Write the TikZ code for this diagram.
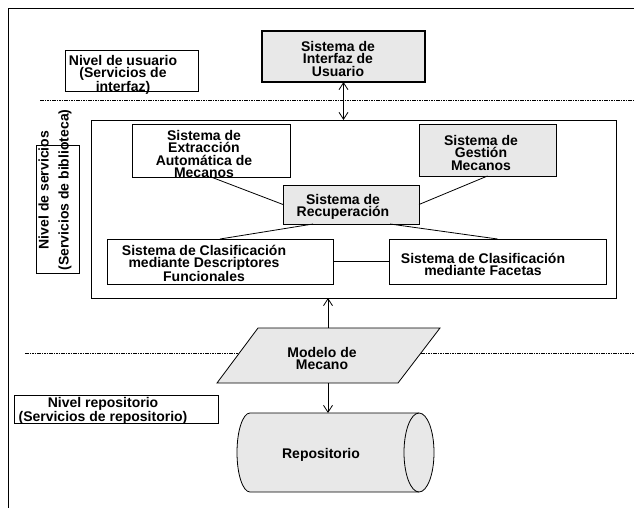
\documentclass[tikz,border=0pt]{standalone}
\usepackage{fontspec}
\setmainfont{Liberation Sans}
\usetikzlibrary{arrows.meta,calc}
\definecolor{boxgray}{RGB}{232,232,232}
\begin{document}
\begin{tikzpicture}[x=1pt,y=-1pt,
  txt/.style={font=\fontsize{14}{12.5}\selectfont\bfseries, align=center, inner sep=0pt},
  rottxt/.style={font=\fontsize{14}{20}\selectfont\bfseries, align=center, inner sep=0pt, rotate=90},
  box/.style={draw, line width=1pt, inner sep=0pt, outer sep=0pt},
  gbox/.style={box, fill=boxgray},
  conn/.style={line width=0.8pt},
  arr/.style={conn, -{Straight Barb[length=7pt,width=9pt]}},
  dotline/.style={line width=0.7pt, dash pattern=on 1.6pt off 0.8pt},
]
\useasboundingbox (0,0) rectangle (634,508);

% frame
\draw[line width=1pt] (634,9) -- (8,9) -- (8,508);

% dashed level separators
\draw[dotline] (40,100) -- (634,100);
\draw[dotline] (25,353) -- (634,353);

% user level
\node[box, minimum width=133pt, minimum height=41pt] (usrbox) at (131.5,71.5) {};
\node[txt] (usrtxt) at (123,75) {Nivel de usuario\\(Servicios de\\interfaz)};

\node[gbox, line width=1.8pt, minimum width=163pt, minimum height=51pt] (iface) at (343.5,56.5) {};
\node[txt] (ifacetxt) at (338,58.5) {Sistema de\\Interfaz de\\Usuario};

% services level
\node[box, line width=0.9pt, minimum width=525pt, minimum height=178pt] (svc) at (353.5,209) {};
\node[box, minimum width=43pt, minimum height=128pt] (svcbox) at (57.5,209) {};
\node[rottxt] (svctxt) at (55,190) {Nivel de servicios\\(Servicios de biblioteca)};

\node[box, fill=white, minimum width=158pt, minimum height=52pt] (ext) at (211,151) {};
\node[txt] (exttxt) at (204,154) {Sistema de\\Extracción\\Automática de\\Mecanos};

\node[gbox, minimum width=137pt, minimum height=51pt] (gest) at (487.5,150.5) {};
\node[txt] (gesttxt) at (481,152.5) {Sistema de\\Gestión\\Mecanos};

\node[gbox, minimum width=136pt, minimum height=39pt] (rec) at (351,204.5) {};
\node[txt] (rectxt) at (343,207) {Sistema de\\Recuperación};

\node[box, fill=white, minimum width=226pt, minimum height=45pt] (desc) at (220,261.5) {};
\node[txt] (desctxt) at (204,263.5) {Sistema de Clasificación\\mediante Descriptores\\Funcionales};

\node[box, fill=white, minimum width=217pt, minimum height=45pt] (fac) at (497.5,261.5) {};
\node[txt] (factxt) at (483,264.5) {Sistema de Clasificación\\mediante Facetas};

\draw[conn] (ext.south) -- (rec.west);
\draw[conn] (rec.east) -- (gest.south);
\draw[conn] (desc.north) -- ([xshift=30pt]rec.south west);
\draw[conn] (fac.north) -- ([xshift=-29pt]rec.south east);
\draw[conn] (desc.east) -- (fac.west);

\draw[conn, {Straight Barb[length=7pt,width=9pt]}-{Straight Barb[length=7pt,width=9pt]}]
  (iface.south) -- (iface.south |- svc.north);

% model
\fill[boxgray] (258,328) -- (440,328) -- (398,383) -- (217,383) -- cycle;
\draw[line width=0.8pt] (258,328) -- (440,328) -- (398,383) -- (217,383) -- cycle;
\coordinate (modtop) at (328,328);
\coordinate (modbot) at (328,383);
\node[txt] (modtxt) at (322,358.5) {Modelo de\\Mecano};

\draw[arr] (modtop) -- (modtop |- svc.south);

% repository level
\node[box, minimum width=204pt, minimum height=28pt] (repbox) at (116,409) {};
\node[txt] (reptxt) at (103,411) {Nivel repositorio\\(Servicios de repositorio)};

\fill[boxgray] (250,413) -- (419,413) arc[start angle=90, end angle=-90, x radius=15pt, y radius=39.5pt]
  -- (250,492) arc[start angle=-90, end angle=-270, x radius=13pt, y radius=39.5pt] -- cycle;
\draw[line width=0.8pt] (250,413) -- (419,413) arc[start angle=90, end angle=-90, x radius=15pt, y radius=39.5pt]
  -- (250,492) arc[start angle=-90, end angle=-270, x radius=13pt, y radius=39.5pt] -- cycle;
\draw[line width=0.8pt] (419,413) arc[start angle=90, end angle=270, x radius=15pt, y radius=39.5pt];
\coordinate (repotop) at (328,413);
\node[txt] (repotxt) at (321,455) {Repositorio};

\draw[arr] (modbot) -- (repotop);
\end{tikzpicture}
\end{document}
